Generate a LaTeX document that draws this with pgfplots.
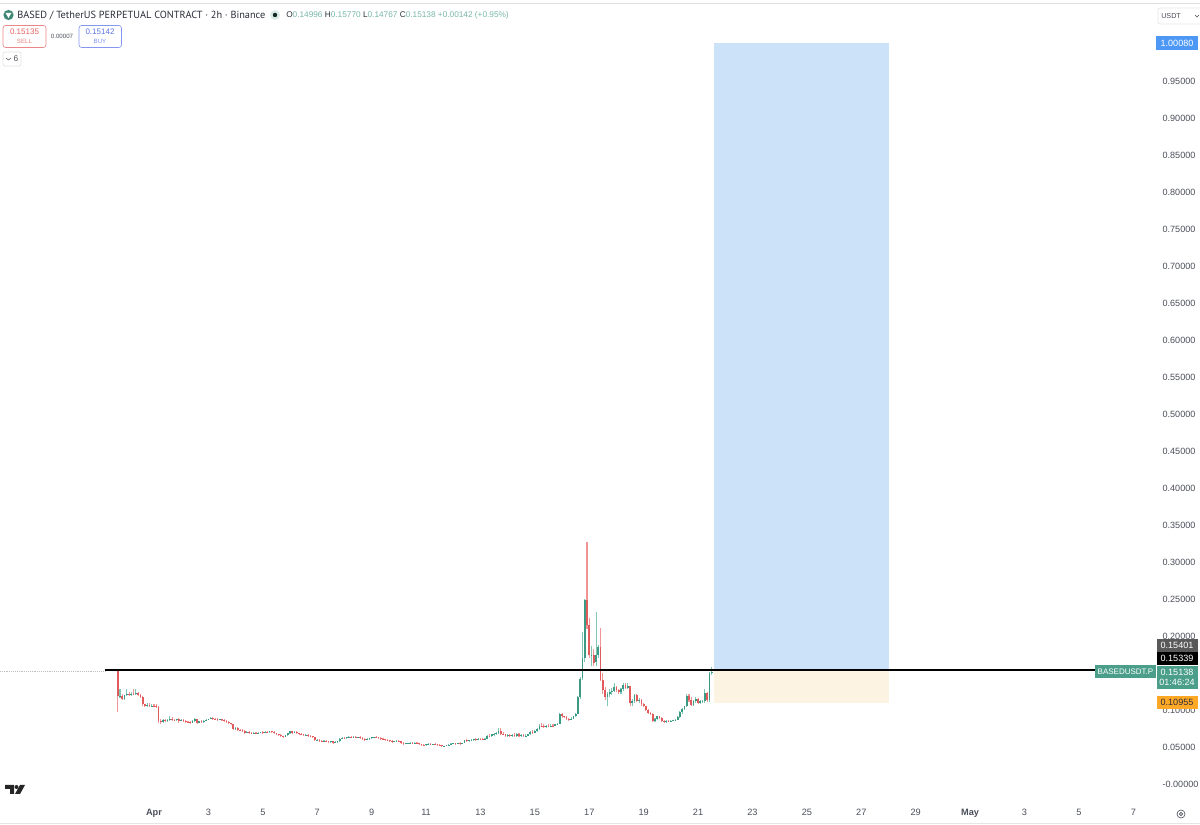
\documentclass[border=0pt]{standalone}
\usepackage{pgfplots}
\usepackage{pgfplotstable}
\pgfplotsset{compat=1.18}
\usepackage{fontspec}
\setmainfont{Liberation Sans}
\newfontfamily\headfont{PT Sans}
\definecolor{upc}{HTML}{3A9A84}
\definecolor{downc}{HTML}{E25A5C}
\definecolor{upw}{HTML}{7FC6B4}
\definecolor{downw}{HTML}{F09496}
\definecolor{tvgreen}{HTML}{4A9E8A}
\definecolor{tvred}{HTML}{E4605F}
\definecolor{tvblue}{HTML}{5B74E8}
\definecolor{ink}{HTML}{2A2E39}
\definecolor{muted}{HTML}{4A4E59}
\definecolor{target}{HTML}{CCE2F8}
\definecolor{stopz}{HTML}{FCF3E3}
% i = 2h bars counted from Apr 1 00:00
\pgfplotstableread{
i o h l c
-16 .1531 .1534 .0977 .1185
-15 .1185 .1280 .1160 .1190
-14 .1190 .1215 .1130 .1150
-13 .1150 .1190 .1130 .1205
-12 .1205 .1280 .1190 .1215
-11 .1215 .1240 .1190 .1200
-10 .1200 .1240 .1185 .1220
-9 .1220 .1290 .1200 .1210
-8 .1210 .1290 .1200 .1235
-7 .1235 .1250 .1195 .1205
-6 .1205 .1220 .1170 .1180
-5 .1180 .1190 .1060 .1075
-4 .1075 .1085 .1040 .1055
-3 .1055 .1090 .1040 .1065
-2 .1065 .1090 .1045 .1050
-1 .1050 .1085 .1040 .1060
0 .1060 .1085 .1040 .1050
1 .1050 .1075 .1030 .1040
2 .1040 .1050 .0820 .0850
3 .0850 .0880 .0810 .0835
4 .0835 .0880 .0825 .0860
5 .0860 .0885 .0840 .0850
6 .0850 .0880 .0840 .0870
7 .0870 .0925 .0850 .0880
8 .0880 .0900 .0855 .0865
9 .0865 .0885 .0850 .0860
10 .0860 .0885 .0850 .0875
11 .0875 .0890 .0830 .0855
12 .0855 .0880 .0845 .0870
13 .0870 .0880 .0840 .0850
14 .0850 .0860 .0830 .0840
15 .0840 .0855 .0825 .0835
16 .0835 .0850 .0820 .0830
17 .0830 .0865 .0820 .0855
18 .0855 .0890 .0840 .0875
19 .0875 .0885 .0810 .0830
20 .0830 .0855 .0820 .0845
21 .0845 .0860 .0835 .0840
22 .0840 .0865 .0830 .0855
23 .0855 .0880 .0845 .0870
24 .0870 .0885 .0860 .0880
25 .0880 .0905 .0875 .0895
26 .0895 .0905 .0880 .0885
27 .0885 .0895 .0870 .0880
28 .0880 .0890 .0865 .0870
29 .0870 .0880 .0860 .0875
30 .0875 .0880 .0860 .0865
31 .0865 .0875 .0850 .0855
32 .0855 .0865 .0835 .0840
33 .0840 .0850 .0820 .0825
34 .0825 .0830 .0795 .0805
35 .0805 .0815 .0740 .0750
36 .0750 .0765 .0730 .0755
37 .0755 .0765 .0725 .0735
38 .0735 .0745 .0720 .0730
39 .0730 .0740 .0705 .0715
40 .0715 .0725 .0680 .0695
41 .0695 .0715 .0690 .0705
42 .0705 .0710 .0685 .0695
43 .0695 .0705 .0680 .0685
44 .0685 .0700 .0680 .0690
45 .0690 .0700 .0680 .0685
46 .0685 .0700 .0680 .0695
47 .0695 .0705 .0685 .0700
48 .0700 .0710 .0690 .0695
49 .0695 .0715 .0690 .0705
50 .0705 .0720 .0695 .0700
51 .0700 .0715 .0695 .0710
52 .0710 .0720 .0695 .0700
53 .0700 .0710 .0680 .0685
54 .0685 .0695 .0660 .0670
55 .0670 .0680 .0650 .0660
56 .0660 .0670 .0635 .0645
57 .0645 .0655 .0625 .0635
58 .0635 .0665 .0630 .0660
59 .0660 .0695 .0650 .0685
60 .0685 .0720 .0680 .0710
61 .0710 .0720 .0690 .0695
62 .0695 .0710 .0685 .0700
63 .0700 .0710 .0680 .0690
64 .0690 .0695 .0665 .0675
65 .0675 .0685 .0660 .0670
66 .0670 .0680 .0655 .0660
67 .0660 .0670 .0650 .0665
68 .0665 .0670 .0640 .0650
69 .0650 .0660 .0635 .0645
70 .0645 .0650 .0620 .0630
71 .0630 .0640 .0580 .0590
72 .0590 .0610 .0575 .0600
73 .0600 .0605 .0570 .0580
74 .0580 .0590 .0565 .0575
75 .0575 .0590 .0565 .0585
76 .0585 .0600 .0570 .0575
77 .0575 .0585 .0560 .0565
78 .0565 .0580 .0560 .0575
79 .0575 .0580 .0555 .0560
80 .0560 .0575 .0555 .0570
81 .0570 .0585 .0560 .0575
82 .0575 .0625 .0565 .0615
83 .0615 .0635 .0605 .0625
84 .0625 .0640 .0610 .0620
85 .0620 .0640 .0615 .0630
86 .0630 .0655 .0625 .0640
87 .0640 .0650 .0625 .0630
88 .0630 .0645 .0620 .0635
89 .0635 .0645 .0625 .0630
90 .0630 .0640 .0620 .0635
91 .0635 .0650 .0620 .0625
92 .0625 .0640 .0610 .0615
93 .0615 .0625 .0595 .0600
94 .0600 .0625 .0595 .0615
95 .0615 .0625 .0600 .0620
96 .0620 .0635 .0610 .0630
97 .0630 .0640 .0620 .0635
98 .0635 .0645 .0625 .0630
99 .0630 .0640 .0620 .0625
100 .0625 .0635 .0610 .0615
101 .0615 .0625 .0600 .0605
102 .0605 .0615 .0595 .0600
103 .0600 .0610 .0585 .0590
104 .0590 .0600 .0575 .0580
105 .0580 .0590 .0565 .0570
106 .0570 .0585 .0565 .0580
107 .0580 .0590 .0570 .0585
108 .0585 .0590 .0570 .0575
109 .0575 .0585 .0555 .0560
110 .0560 .0570 .0535 .0545
111 .0545 .0560 .0535 .0550
112 .0550 .0560 .0540 .0555
113 .0555 .0565 .0545 .0560
114 .0560 .0565 .0545 .0550
115 .0550 .0565 .0545 .0560
116 .0560 .0565 .0540 .0550
117 .0550 .0555 .0530 .0535
118 .0535 .0545 .0525 .0530
119 .0530 .0540 .0520 .0525
120 .0525 .0545 .0520 .0540
121 .0540 .0550 .0530 .0545
122 .0545 .0550 .0530 .0535
123 .0535 .0545 .0530 .0540
124 .0540 .0550 .0530 .0535
125 .0535 .0545 .0525 .0530
126 .0530 .0540 .0520 .0525
127 .0525 .0530 .0505 .0510
128 .0510 .0520 .0500 .0515
129 .0515 .0530 .0510 .0525
130 .0525 .0535 .0515 .0530
131 .0530 .0550 .0525 .0545
132 .0545 .0560 .0535 .0550
133 .0550 .0560 .0535 .0540
134 .0540 .0555 .0535 .0550
135 .0550 .0565 .0540 .0545
136 .0545 .0560 .0535 .0555
137 .0555 .0600 .0550 .0590
138 .0590 .0605 .0565 .0575
139 .0575 .0600 .0570 .0590
140 .0590 .0610 .0580 .0595
141 .0595 .0615 .0585 .0610
142 .0610 .0625 .0595 .0600
143 .0600 .0620 .0595 .0615
144 .0615 .0625 .0600 .0610
145 .0610 .0625 .0600 .0605
146 .0605 .0620 .0600 .0615
147 .0615 .0660 .0605 .0650
148 .0650 .0670 .0635 .0645
149 .0645 .0680 .0640 .0670
150 .0670 .0695 .0655 .0680
151 .0680 .0700 .0660 .0690
152 .0690 .0755 .0680 .0720
153 .0720 .0755 .0670 .0680
154 .0680 .0700 .0660 .0670
155 .0670 .0680 .0640 .0650
156 .0650 .0670 .0635 .0660
157 .0660 .0670 .0635 .0645
158 .0645 .0680 .0630 .0665
159 .0665 .0685 .0635 .0650
160 .0650 .0695 .0640 .0680
161 .0680 .0690 .0640 .0650
162 .0650 .0675 .0640 .0665
163 .0665 .0675 .0640 .0650
164 .0650 .0680 .0640 .0655
165 .0655 .0680 .0645 .0670
166 .0670 .0710 .0665 .0700
167 .0700 .0725 .0685 .0695
168 .0695 .0730 .0690 .0720
169 .0720 .0755 .0705 .0745
170 .0745 .0810 .0730 .0790
171 .0790 .0830 .0775 .0780
172 .0780 .0810 .0765 .0770
173 .0770 .0795 .0760 .0785
174 .0785 .0805 .0770 .0780
175 .0780 .0805 .0770 .0790
176 .0790 .0810 .0775 .0785
177 .0785 .0815 .0780 .0805
178 .0805 .0830 .0795 .0815
179 .0815 .0960 .0805 .0945
180 .0945 .0960 .0895 .0915
181 .0915 .0925 .0890 .0900
182 .0900 .0920 .0875 .0880
183 .0880 .0895 .0850 .0865
184 .0865 .0900 .0860 .0885
185 .0885 .0925 .0875 .0915
186 .0915 .0965 .0905 .0950
187 .0950 .1190 .0940 .1170
188 .1170 .1440 .1150 .1420
189 .1430 .2050 .1400 .1700
190 .1700 .2500 .1650 .2490
191 .2490 .3275 .2100 .2150
192 .2150 .2250 .1700 .1740
193 .1740 .1860 .1590 .1742
194 .1745 .1830 .1590 .1640
195 .1650 .2330 .1600 .1750
196 .1750 .1880 .1700 .1855
197 .1855 .2110 .1390 .1405
198 .1405 .1500 .1220 .1270
199 .1270 .1310 .1140 .1180
200 .1180 .1240 .1060 .1210
201 .1210 .1280 .1170 .1240
202 .1240 .1300 .1200 .1260
203 .1260 .1370 .1240 .1310
204 .1310 .1330 .1250 .1270
205 .1270 .1290 .1220 .1240
206 .1240 .1300 .1220 .1280
207 .1280 .1370 .1260 .1340
208 .1340 .1360 .1290 .1300
209 .1300 .1360 .1280 .1320
210 .1320 .1330 .1060 .1090
211 .1090 .1150 .1060 .1120
212 .1120 .1220 .1100 .1200
213 .1200 .1220 .1110 .1125
214 .1125 .1160 .1100 .1140
215 .1140 .1150 .1060 .1075
216 .1075 .1090 .1040 .1050
217 .1050 .1060 .0990 .1000
218 .1000 .1010 .0945 .0955
219 .0955 .0975 .0930 .0945
220 .0945 .0960 .0840 .0855
221 .0855 .0895 .0835 .0880
222 .0880 .0925 .0870 .0915
223 .0915 .0925 .0885 .0895
224 .0895 .0905 .0835 .0850
225 .0850 .0865 .0825 .0840
226 .0840 .0860 .0830 .0855
227 .0855 .0865 .0840 .0850
228 .0850 .0860 .0840 .0855
229 .0855 .0865 .0845 .0860
230 .0860 .0880 .0850 .0870
231 .0870 .0915 .0860 .0900
232 .0900 .0985 .0890 .0970
233 .0970 .1030 .0950 .1015
234 .1015 .1060 .1000 .1050
235 .1050 .1210 .1040 .1195
236 .1195 .1215 .1110 .1130
237 .1130 .1170 .1050 .1070
238 .1070 .1140 .1050 .1120
239 .1120 .1170 .1100 .1150
240 .1150 .1160 .1080 .1100
241 .1100 .1135 .1080 .1120
242 .1120 .1140 .1090 .1125
243 .1125 .1290 .1100 .1230
244 .1230 .1250 .1110 .1135
245 .1135 .1510 .1110 .1500
246 .1500 .1577 .1477 .1514
}\candles
\begin{document}
\begin{tikzpicture}
\path[use as bounding box] (0,0) rectangle (900pt,618.75pt);
\begin{axis}[
  at={(0pt,18.75pt)}, anchor=south west,
  scale only axis, width=866.25pt, height=594pt,
  xmin=-67.93, xmax=441.55, ymin=-0.0216, ymax=1.0486,
  axis line style={draw=none}, tick style={draw=none},
  major tick length=0pt,
  xtick={0,24,48,72,96,120,144,168,192,216,240,264,288,312,336,360,384,408,432},
  xticklabels={\textbf{Apr},3,5,7,9,11,13,15,17,19,21,23,25,27,29,\textbf{May},3,5,7},
  xticklabel style={font=\fontsize{6.9pt}{8pt}\selectfont, color=muted, inner sep=0pt, yshift=-6.5pt},
  ytick={0,0.05,0.10,0.20,0.25,0.30,0.35,0.40,0.45,0.50,0.55,0.60,0.65,0.70,0.75,0.80,0.85,0.90,0.95},
  yticklabels={-0.00000,0.05000,0.10000,0.20000,0.25000,0.30000,0.35000,0.40000,0.45000,0.50000,0.55000,0.60000,0.65000,0.70000,0.75000,0.80000,0.85000,0.90000,0.95000},
  yticklabel pos=right,
  yticklabel style={font=\fontsize{6.8pt}{8pt}\selectfont, color=muted, inner sep=0pt, anchor=west, xshift=5.5pt},
]
% target and stop zones of the long position
\addplot[fill=target, draw=none, forget plot] coordinates {(247,0.154) (247,1.0008) (324.2,1.0008) (324.2,0.154)} -- cycle;
\addplot[fill=stopz, draw=none, forget plot] coordinates {(247,0.10955) (247,0.154) (324.2,0.154) (324.2,0.10955)} -- cycle;
% candles: wicks first, bodies over them
\addplot[draw=none, mark=none, forget plot, error bars/.cd, y dir=both, y explicit, error mark=none,
  error bar style={draw=upw, line width=0.8pt}]
  table[x=i, y expr={\thisrow{c}>=\thisrow{o} ? \thisrow{c} : nan},
  y error plus expr=\thisrow{h}-\thisrow{c}, y error minus expr=\thisrow{c}-\thisrow{l}] {\candles};
\addplot[draw=none, mark=none, forget plot, error bars/.cd, y dir=both, y explicit, error mark=none,
  error bar style={draw=downw, line width=0.8pt}]
  table[x=i, y expr={\thisrow{c}<\thisrow{o} ? \thisrow{c} : nan},
  y error plus expr=\thisrow{h}-\thisrow{c}, y error minus expr=\thisrow{c}-\thisrow{l}] {\candles};
\addplot[draw=none, mark=none, forget plot, error bars/.cd, y dir=both, y explicit, error mark=none,
  error bar style={draw=upc, line width=1.3pt}]
  table[x=i, y expr={\thisrow{c}>=\thisrow{o} ? \thisrow{c} : nan},
  y error plus expr=0, y error minus expr=\thisrow{c}-\thisrow{o}] {\candles};
\addplot[draw=none, mark=none, forget plot, error bars/.cd, y dir=both, y explicit, error mark=none,
  error bar style={draw=downc, line width=1.3pt}]
  table[x=i, y expr={\thisrow{c}<\thisrow{o} ? \thisrow{c} : nan},
  y error plus expr=\thisrow{o}-\thisrow{c}, y error minus expr=0] {\candles};
% horizontal levels
\addplot[gray!50, densely dotted, line width=0.4pt, forget plot] coordinates {(-67.93,0.1525) (-21.6,0.1525)};
\addplot[black, line width=1.5pt, forget plot] coordinates {(-21.6,0.154) (415,0.154)};
\end{axis}
% chart chrome, in image pixels
\begin{scope}[shift={(0pt,618.75pt)}, x=0.75pt, y=-0.75pt]
\draw[black!12, line width=0.7pt] (0,3) -- (1200,3);
\draw[black!10, line width=0.6pt] (0,823) -- (1200,823);
% symbol line
\fill[tvgreen!25] (8.5,15) circle (5.5);
\fill[tvgreen!85!black] (8.5,15) circle (5);
\fill[white] (5.6,13) -- (11.4,13) -- (8.5,18) -- cycle;
\node[anchor=west, inner sep=0pt, text=ink, font=\headfont\fontsize{7.75pt}{9pt}\selectfont] at (17,15.5) {BASED / TetherUS PERPETUAL CONTRACT · 2h · Binance};
\fill[tvgreen!20] (275,15) circle (5);
\fill[black!75!tvgreen] (275,15) circle (2.2);
\node[anchor=west, inner sep=0pt, font=\fontsize{6.2pt}{8pt}\selectfont, text=tvgreen!75] at (286,15.5)
  {\textcolor{ink}{O}0.14996 \textcolor{ink}{H}0.15770 \textcolor{ink}{L}0.14767 \textcolor{ink}{C}0.15138 +0.00142 (+0.95\%)};
% sell and buy
\draw[tvred!75, rounded corners=2pt, line width=0.5pt] (3,25.5) rectangle (46,47.5);
\node[inner sep=0pt, text=tvred, font=\fontsize{6pt}{7pt}\selectfont] at (24.5,31.5) {0.15135};
\node[inner sep=0pt, text=tvred!80, font=\fontsize{4.6pt}{6pt}\selectfont] at (24.5,41) {SELL};
\node[inner sep=0pt, text=muted, font=\fontsize{4.6pt}{6pt}\selectfont] at (62,36) {0.00007};
\draw[tvblue!75, rounded corners=2pt, line width=0.5pt] (79,25.5) rectangle (121.5,47.5);
\node[inner sep=0pt, text=tvblue, font=\fontsize{6pt}{7pt}\selectfont] at (100,31.5) {0.15142};
\node[inner sep=0pt, text=tvblue!80, font=\fontsize{4.6pt}{6pt}\selectfont] at (100,41) {BUY};
\draw[black!12, rounded corners=1.5pt, line width=0.5pt] (3,52) rectangle (21,66);
\draw[muted, line width=0.4pt] (6,58) -- (8.5,60) -- (11,58);
\node[inner sep=0pt, text=muted, font=\fontsize{6.2pt}{7pt}\selectfont] at (16,59) {6};
% currency box
\draw[black!10, rounded corners=1.5pt, line width=0.5pt] (1158,8) rectangle (1203,24);
\node[anchor=west, inner sep=0pt, text=muted, font=\fontsize{5.4pt}{7pt}\selectfont] at (1161,16) {USDT};
\draw[muted, line width=0.4pt] (1195,15) -- (1197,17) -- (1199,15);
% price labels
\fill[black!65] (1157,639) rectangle (1198,652);
\fill[black] (1157,652) rectangle (1198,665);
\fill[tvgreen] (1157,666) rectangle (1198,689);
\fill[tvgreen] (1095,665) rectangle (1156,678);
\fill[orange!80!yellow!85!white] (1157,696) rectangle (1198,709);
\fill[blue!40!cyan!50!tvblue!85!white] (1156,36) rectangle (1198,50);
\begin{scope}[font=\fontsize{6.8pt}{8pt}\selectfont, inner sep=0pt]
\node[text=white] at (1177,645.5) {0.15401};
\node[text=white] at (1177,658.5) {0.15339};
\node[text=white] at (1177,672) {0.15138};
\node[text=white!80] at (1177,682.5) {01:46:24};
\node[text=white, font=\fontsize{6pt}{8pt}\selectfont] at (1125.5,671.5) {BASEDUSDT.P};
\node[text=ink] at (1177,702.5) {0.10955};
\node[text=white] at (1177,43) {1.00080};
\end{scope}
% settings icon
\draw[muted, line width=0.45pt] (1181,814) circle (4);
\draw[muted, line width=0.45pt] (1181,814) circle (1.6);
% TradingView mark
\fill[black!85] (5,785) -- (14,785) -- (14,794) -- (10,794) -- (10,789) -- (5,789) -- cycle;
\fill[black!85] (16.5,787) circle (2);
\fill[black!85] (20,785) -- (25,785) -- (20,794) -- (15,794) -- cycle;
\end{scope}
\end{tikzpicture}
\end{document}
